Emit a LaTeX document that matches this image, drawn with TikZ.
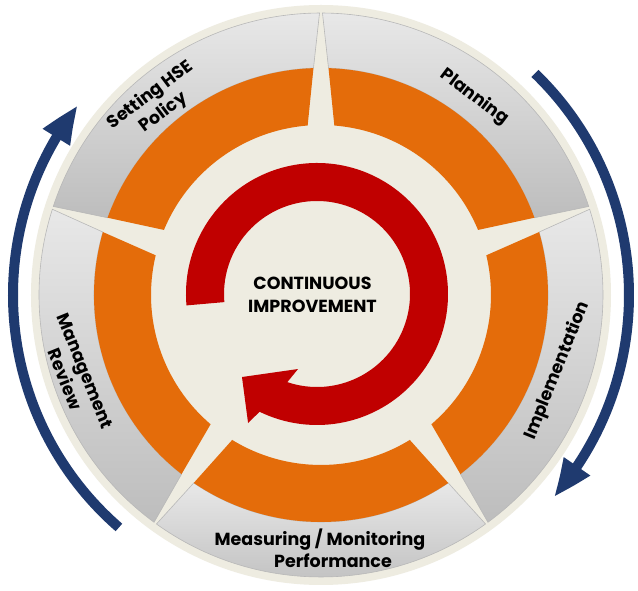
\documentclass[tikz,border=0pt]{standalone}
\usepackage{fontspec}
\setmainfont{Poppins}
\usetikzlibrary{arrows.meta, bending}

\definecolor{cream}{HTML}{EEECE1}
\definecolor{hseorange}{HTML}{E46C0A}
\definecolor{hsered}{HTML}{C00000}
\definecolor{navy}{HTML}{1F3A6F}
\definecolor{grayhi}{HTML}{E8E8E8}
\definecolor{graylo}{HTML}{BDBDBD}

\begin{document}
\begin{tikzpicture}[x=1pt, y=1pt,
      graysector/.style={top color=grayhi, bottom color=graylo, draw=black!28, line width=0.6pt},
      orangesector/.style={fill=hseorange},
      cycarrow/.style={-{Triangle[length=39pt, width=29pt, bend]}, draw=navy, line width=10pt},
      seglabel/.style={font=\fontsize{17.5}{22}\selectfont\bfseries, align=center, inner sep=0pt},
      centertext/.style={font=\fontsize{17.5}{23}\selectfont\bfseries, align=center, inner sep=0pt}
    ]

    \path[fill=white] (-321,-296) rectangle (317,295);
    \useasboundingbox (-321,-296) rectangle (317,295);

    % base disc
    \fill[cream] (0,0) circle[radius=290];

    % five phases, gaps taper out to the rim
    \foreach \a in {18,90,162,234,306} {
      \path[graysector] (\a+0.3:282) arc[start angle=\a+0.3, end angle=\a+71.7, radius=282]
        -- (\a+70.1:227) arc[start angle=\a+70.1, end angle=\a+1.9, radius=227] -- cycle;
      \path[orangesector] (\a+1.9:227) arc[start angle=\a+1.9, end angle=\a+70.1, radius=227]
        -- (\a+67.5:170) arc[start angle=\a+67.5, end angle=\a+4.5, radius=170] -- cycle;
    }

    % red loop arrow
    \begin{scope}[shift={(-4,1)}]
      \fill[hsered] (185:131) arc[start angle=185, end angle=-116, radius=131]
        -- (-118.1:146.3) -- (-132.1:111.9) -- (-104.2:77.4)
        -- (-108.6:93) arc[start angle=-108.6, end angle=185, radius=93] -- cycle;
    \end{scope}

    % outer cycle arrows
    \draw[cycarrow] (46:308) arc[start angle=46, end angle=-41, radius=308];
    \draw[cycarrow] (229:308) arc[start angle=229, end angle=142, radius=308];

    \node[centertext] (ci) at (-8.5,0) {CONTINUOUS\\IMPROVEMENT};

    \node[seglabel, rotate=37] (policy) at (-164,191) {Setting HSE\\Policy};
    \node[seglabel, rotate=-37] (planning) at (153.5,198) {Planning};
    \node[seglabel, rotate=68] (impl) at (236.5,-75.5) {Implementation};
    \node[seglabel] (measure) at (-1,-253) {Measuring / Monitoring\\\hspace*{26pt}Performance};
    \node[seglabel, rotate=-68] (review) at (-246,-80) {Management\\Review};

\end{tikzpicture}
\end{document}
